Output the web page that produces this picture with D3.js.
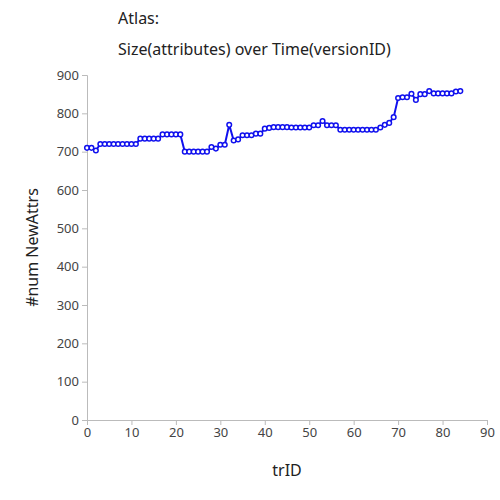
<!DOCTYPE html>
<meta charset="utf-8">
<style>
  body { margin: 0; font-family: "Noto Sans", sans-serif; }
  .axis text { font-size: 13px; fill: #444; font-family: "Noto Sans", sans-serif; }
  .axis path, .axis line { stroke: #bbb; }
</style>
<body>
<script src="https://d3js.org/d3.v7.min.js"></script>
<script>
  var titleLines = ["Atlas:", "Size(attributes) over Time(versionID)"];
  var xTicks = [0, 10, 20, 30, 40, 50, 60, 70, 80, 90];
  var yTicks = [0, 100, 200, 300, 400, 500, 600, 700, 800, 900];
  var values = [710, 710, 703, 720, 720, 720, 720, 720, 720, 720, 720, 720,
    734, 734, 734, 734, 734, 745, 745, 745, 745, 745,
    700, 700, 700, 700, 700, 700, 712, 708, 718, 718, 770, 729, 732,
    743, 743, 743, 747, 747, 760, 762, 764, 764, 764, 764,
    763, 763, 763, 763, 763, 769, 769, 780, 769, 769, 769,
    757, 757, 757, 757, 757, 757, 757, 757, 757, 763, 770, 775, 790,
    840, 842, 842, 851, 835, 850, 850, 858, 852, 852, 852, 852, 852, 857, 858];

  var margin = {top: 75, right: 13, bottom: 80, left: 87},
    width = 500 - margin.left - margin.right,
    height = 500 - margin.top - margin.bottom;

  var x = d3.scaleLinear().domain([0, 90]).range([0, width]);
  var y = d3.scaleLinear().domain([0, 900]).range([height, 0]);

  var svg = d3.select("body").append("svg")
    .attr("width", 500).attr("height", 500);

  svg.selectAll(".title").data(titleLines).enter().append("text")
    .attr("x", 118).attr("y", function (d, i) { return 24 + i * 31; })
    .style("font-size", "16px").style("fill", "#222")
    .text(function (d) { return d; });

  var g = svg.append("g")
    .attr("transform", "translate(" + margin.left + "," + margin.top + ")");

  g.append("g").attr("class", "axis")
    .attr("transform", "translate(0," + height + ")")
    .call(d3.axisBottom(x).tickValues(xTicks).tickSize(5).tickPadding(3));

  g.append("g").attr("class", "axis")
    .call(d3.axisLeft(y).tickValues(yTicks).tickSize(5).tickPadding(3));

  svg.append("text")
    .attr("x", margin.left + width / 2).attr("y", 476)
    .attr("text-anchor", "middle").style("font-size", "16px").style("fill", "#222")
    .text("trID");

  svg.append("text")
    .attr("transform", "translate(38," + (margin.top + height / 2) + ") rotate(-90)")
    .attr("text-anchor", "middle").style("font-size", "16px").style("fill", "#222")
    .text("#num NewAttrs");

  var line = d3.line()
    .x(function (d, i) { return x(i); })
    .y(function (d) { return y(d); });

  g.append("path").datum(values)
    .attr("d", line).attr("fill", "none")
    .attr("stroke", "#1010ee").attr("stroke-width", 2);

  g.selectAll(".dot").data(values).enter().append("circle")
    .attr("cx", function (d, i) { return x(i); })
    .attr("cy", function (d) { return y(d); })
    .attr("r", 2.3).attr("fill", "white")
    .attr("stroke", "#1010ee").attr("stroke-width", 1.5);
</script>
</body>
